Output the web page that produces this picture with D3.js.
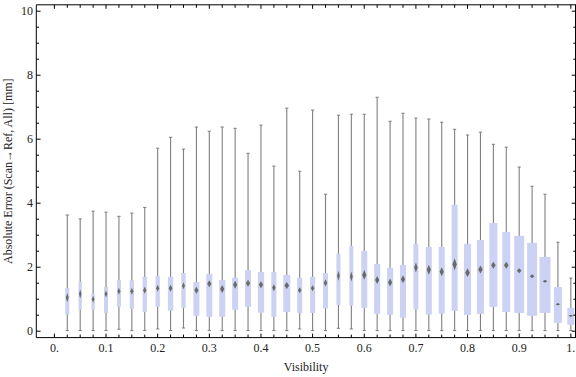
<!DOCTYPE html>
<html>
<head>
  <meta charset="utf-8" />
  <title>Absolute error vs visibility</title>
  <script src="https://cdn.jsdelivr.net/npm/d3@7"></script>
  <style>
    body { margin: 0; background: #fff; }
    svg text { font-family: "Liberation Serif", "Times New Roman", serif; fill: #222; }
  </style>
</head>
<body>
  <div id="chart"></div>
  <script>
    // visibility bins (box centres)
    const visibility = d3.range(1, 41).map(i => i * 0.025);

    // box statistics [mm]
    const wMin = [0.02,0.02,0.02,0.02,0.06,0.02,0.02,0.07,0.02,0.10,0.02,0.02,0.02,0.02,0.02,0.02,0.02,0.02,0.07,0.02,
                  0.02,0.09,0.07,0.02,0.02,0.02,0.02,0.02,0.02,0.02,0.02,0.02,0.02,0.02,0.02,0.02,0.02,0.02,0.02,0.02];
    const q1 = [0.51,0.67,0.67,0.57,0.76,0.70,0.60,0.76,0.64,0.73,0.48,0.45,0.45,0.67,0.76,0.58,0.45,0.60,0.57,0.57,
                0.71,0.82,0.80,0.73,0.54,0.51,0.42,0.68,0.52,0.55,0.63,0.51,0.54,0.76,0.60,0.57,0.48,0.57,0.26,0.20];
    const median = [1.05,1.16,1.00,1.16,1.25,1.25,1.28,1.34,1.34,1.42,1.28,1.48,1.32,1.45,1.50,1.45,1.36,1.43,1.28,1.34,
                    1.51,1.73,1.71,1.76,1.60,1.52,1.62,1.99,1.92,1.86,2.09,1.83,1.93,2.06,2.06,1.89,1.72,1.56,0.84,0.48];
    const q3 = [1.35,1.54,1.17,1.38,1.60,1.59,1.70,1.73,1.70,1.82,1.54,1.79,1.60,1.67,1.91,1.85,1.85,1.76,1.67,1.70,
                1.82,2.42,2.67,2.51,2.10,1.98,2.07,2.73,2.63,2.63,3.95,2.73,2.85,3.38,3.10,2.98,2.76,2.32,1.38,0.73];
    const wMax = [3.63,3.51,3.75,3.72,3.59,3.69,3.87,5.72,6.06,5.69,6.38,6.25,6.38,6.34,5.56,6.44,5.16,6.97,5.00,6.91,
                  4.28,6.75,6.78,6.78,7.31,6.56,6.81,6.66,6.63,6.53,6.31,6.13,6.22,5.84,5.75,5.13,4.53,4.28,2.78,1.66];
    // relative sample weight (box width) and median notch height [mm]
    const weight = [4,3.3,3.3,4,4,4.3,4.3,4.3,5.3,4.3,6,6,6,6,6,6.3,5,7,5,5,
                    5,4,4,6,6,6,6,5,6,6,6,7,7,8,8,10,10,11,8,7];
    const notch = [0.29,0.28,0.22,0.22,0.22,0.22,0.22,0.22,0.22,0.22,0.22,0.22,0.25,0.25,0.22,0.22,0.22,0.22,0.19,0.19,
                   0.22,0.31,0.31,0.31,0.25,0.25,0.25,0.31,0.31,0.28,0.38,0.28,0.25,0.22,0.22,0.16,0.125,0.094,0.08,0.05];

    const xTicks = d3.range(0, 41).map(i => i * 0.025);
    const xLabels = ["0.", "0.1", "0.2", "0.3", "0.4", "0.5", "0.6", "0.7", "0.8", "0.9", "1."];
    const yTicks = d3.range(0, 21).map(i => i * 0.5);
    const yLabels = ["0", "2", "4", "6", "8", "10"];

    const data = visibility.map((v, i) => ({
      v, lo: wMin[i], q1: q1[i], med: median[i], q3: q3[i], hi: wMax[i], w: weight[i], notch: notch[i]
    }));

    const W = 576, H = 377;
    const pL = 36.3, pR = 576, pT = 4.8, pB = 337.6;

    const svg = d3.select("#chart").append("svg")
      .attr("width", W).attr("height", H);

    const defs = svg.append("defs");
    defs.append("filter").attr("id", "soft")
      .attr("x", "-50%").attr("y", "-50%").attr("width", "200%").attr("height", "200%")
      .append("feGaussianBlur").attr("stdDeviation", 0.55);
    defs.append("clipPath").attr("id", "plotclip")
      .append("rect").attr("x", pL).attr("y", pT).attr("width", pR - pL).attr("height", pB - pT);

    const x = d3.scaleLinear().domain([-0.035, 1.01]).range([pL, pR]);
    const y = d3.scaleLinear().domain([-0.2, 10.2]).range([pB, pT]);
    const wScale = d3.scaleLinear().domain([0, 1]).range([0, 1]);

    const plot = svg.append("g").attr("clip-path", "url(#plotclip)");

    const g = plot.selectAll("g.bw").data(data).enter().append("g").attr("class", "bw");

    // whiskers
    g.append("line")
      .attr("x1", d => x(d.v)).attr("x2", d => x(d.v))
      .attr("y1", d => y(d.lo)).attr("y2", d => y(d.hi))
      .attr("stroke", "#7f7f7f").attr("stroke-width", 1.1);
    g.append("line")
      .attr("x1", d => x(d.v) - 1.6).attr("x2", d => x(d.v) + 1.6)
      .attr("y1", d => y(d.hi)).attr("y2", d => y(d.hi))
      .attr("stroke", "#7f7f7f").attr("stroke-width", 1);
    g.append("line")
      .attr("x1", d => x(d.v) - 1.6).attr("x2", d => x(d.v) + 1.6)
      .attr("y1", d => y(d.lo)).attr("y2", d => y(d.lo))
      .attr("stroke", "#7f7f7f").attr("stroke-width", 1);

    // boxes
    g.append("rect")
      .attr("x", d => x(d.v) - wScale(d.w) / 2)
      .attr("width", d => wScale(d.w))
      .attr("y", d => y(d.q3))
      .attr("height", d => y(d.q1) - y(d.q3))
      .attr("fill", "#cbd2f5");

    // median notch diamonds
    g.append("path")
      .attr("d", d => {
        const cx = x(d.v), cy = y(d.med);
        const hw = Math.max(1.3, Math.min(wScale(d.w) * 0.35, 2.3));
        const hh = Math.max(1.2, (y(0) - y(d.notch)) / 2);
        return `M${cx},${cy - hh}L${cx + hw},${cy}L${cx},${cy + hh}L${cx - hw},${cy}Z`;
      })
      .attr("fill", "#6a6a6a")
      .attr("filter", "url(#soft)");

    // frame
    const frame = svg.append("g").attr("stroke", "#000").attr("stroke-width", 1).attr("fill", "none");
    frame.append("path").attr("d", `M${pL},${pT}V${pB}H${pR}`);
    frame.append("line").attr("x1", pL).attr("x2", pR).attr("y1", pT).attr("y2", pT);
    frame.append("line").attr("x1", pR - 0.5).attr("x2", pR - 0.5).attr("y1", pT).attr("y2", pB);

    // x ticks (bottom and top)
    xTicks.forEach((t, i) => {
      const len = i % 4 === 0 ? 4 : 3;
      frame.append("line").attr("x1", x(t)).attr("x2", x(t)).attr("y1", pB).attr("y2", pB - len);
      frame.append("line").attr("x1", x(t)).attr("x2", x(t)).attr("y1", pT).attr("y2", pT + len);
    });
    // y ticks (left and right)
    yTicks.forEach((t, i) => {
      const len = i % 4 === 0 ? 4.3 : 2.7;
      frame.append("line").attr("x1", pL).attr("x2", pL + len).attr("y1", y(t)).attr("y2", y(t));
      frame.append("line").attr("x1", pR).attr("x2", pR - len).attr("y1", y(t)).attr("y2", y(t));
    });

    // tick labels
    svg.append("g").selectAll("text").data(xLabels).enter().append("text")
      .attr("x", (d, i) => x(i * 0.1))
      .attr("y", 352)
      .attr("text-anchor", "middle")
      .attr("font-size", 12)
      .text(d => d);
    svg.append("g").selectAll("text").data(yLabels).enter().append("text")
      .attr("x", 33)
      .attr("y", (d, i) => y(i * 2) + 4)
      .attr("text-anchor", "end")
      .attr("font-size", 12)
      .text(d => d);

    // axis titles
    svg.append("text")
      .attr("x", (pL + pR) / 2).attr("y", 371)
      .attr("text-anchor", "middle").attr("font-size", 12)
      .text("Visibility");
    svg.append("text")
      .attr("transform", `translate(12,${(pT + pB) / 2}) rotate(-90)`)
      .attr("text-anchor", "middle").attr("font-size", 12)
      .text("Absolute Error (Scan\u2192Ref, All) [mm]");
  </script>
</body>
</html>
